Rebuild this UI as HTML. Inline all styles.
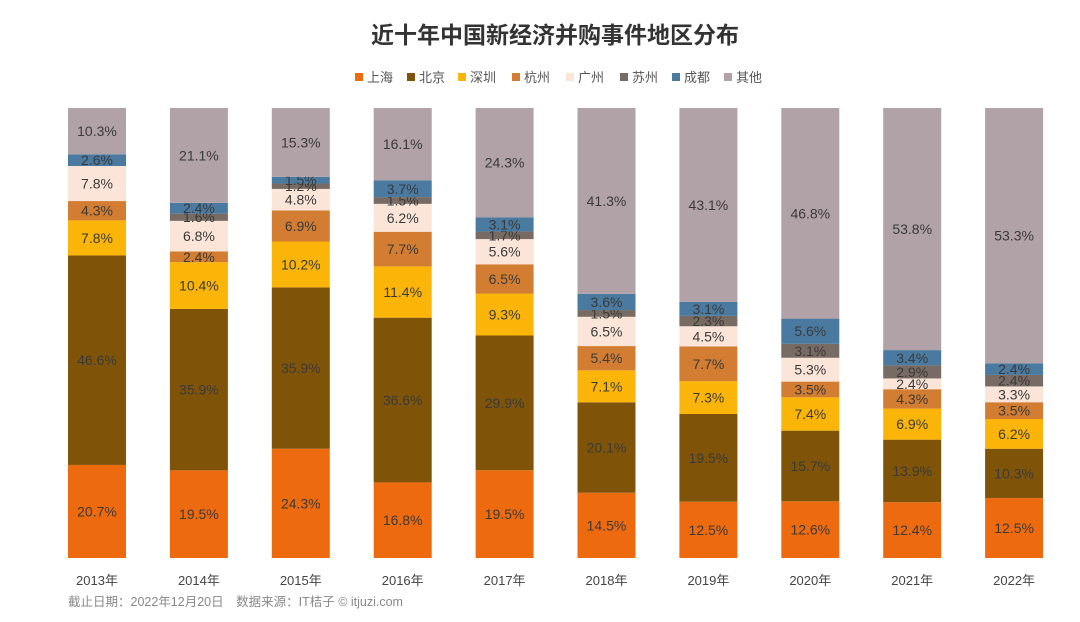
<!DOCTYPE html>
<html><head><meta charset="utf-8"><style>
body{margin:0;background:#fff;width:1080px;height:617px;overflow:hidden;font-family:"Liberation Sans","Noto Sans CJK SC",sans-serif}
</style></head><body>
<svg id="chart" width="1080" height="617" xmlns="http://www.w3.org/2000/svg" font-family="Liberation Sans, Noto Sans CJK SC, sans-serif">
<text x="555" y="43" text-anchor="middle" font-size="23" font-weight="bold" fill="#333">近十年中国新经济并购事件地区分布</text>
<g id="legend"></g>
<g id="bars"></g>
<g id="xaxis"></g>
<text x="68" y="606" font-size="12.5" fill="#888">截止日期：2022年12月20日　数据来源：IT桔子 © itjuzi.com</text>
</svg>
<script>
const years=["2013年","2014年","2015年","2016年","2017年","2018年","2019年","2020年","2021年","2022年"];
const regions=["上海","北京","深圳","杭州","广州","苏州","成都","其他"];
const shanghai=[20.7,19.5,24.3,16.8,19.5,14.5,12.5,12.6,12.4,12.5];
const beijing=[46.6,35.9,35.9,36.6,29.9,20.1,19.5,15.7,13.9,10.3];
const shenzhen=[7.8,10.4,10.2,11.4,9.3,7.1,7.3,7.4,6.9,6.2];
const hangzhou=[4.3,2.4,6.9,7.7,6.5,5.4,7.7,3.5,4.3,3.5];
const guangzhou=[7.8,6.8,4.8,6.2,5.6,6.5,4.5,5.3,2.4,3.3];
const suzhou=[0,1.6,1.2,1.5,1.7,1.5,2.3,3.1,2.9,2.4];
const chengdu=[2.6,2.4,1.5,3.7,3.1,3.6,3.1,5.6,3.4,2.4];
const others=[10.3,21.1,15.3,16.1,24.3,41.3,43.1,46.8,53.8,53.3];
const series=[shanghai,beijing,shenzhen,hangzhou,guangzhou,suzhou,chengdu,others];
const colors=["#ee6a0f","#7f5408","#fbb508","#d27d32","#fbe4d8","#776b63","#4a7aa0","#b0a2a7"];
const NS="http://www.w3.org/2000/svg";
const top0=108,bot=558,x0=68,step=101.9,bw=58;
function xPos(i){return x0+i*step;}
function yScale(v,total){return (bot-top0)*v/total;}
const bars=document.getElementById('bars');
years.forEach((yr,i)=>{
  let total=0;series.forEach(s=>total+=s[i]);
  let y=bot;
  series.forEach((s,k)=>{
    const v=s[i];if(v<=0)return;
    const h=yScale(v,total);y-=h;
    const r=document.createElementNS(NS,'rect');
    r.setAttribute('x',xPos(i));r.setAttribute('y',y);r.setAttribute('width',bw);r.setAttribute('height',h);r.setAttribute('fill',colors[k]);
    
    
    bars.appendChild(r);
    const t=document.createElementNS(NS,'text');
    t.setAttribute('x',xPos(i)+bw/2);t.setAttribute('y',y+h/2+5);t.setAttribute('text-anchor','middle');
    t.setAttribute('font-size','14');t.setAttribute('fill','#3a3a3a');t.textContent=v.toFixed(1)+'%';
    
    
    bars.appendChild(t);
  });
  const xl=document.createElementNS(NS,'text');
  xl.setAttribute('x',xPos(i)+bw/2);xl.setAttribute('y',585);xl.setAttribute('text-anchor','middle');
  xl.setAttribute('font-size','13');xl.setAttribute('fill','#444');xl.textContent=yr;
  
  
  document.getElementById('xaxis').appendChild(xl);
});
const leg=document.getElementById('legend');
const legX=[355,407,458,512,566,620,672,724];
regions.forEach((n,k)=>{
  const g=document.createElementNS(NS,'g');
  
  
  const r=document.createElementNS(NS,'rect');
  r.setAttribute('x',legX[k]);r.setAttribute('y',73);r.setAttribute('width',8);r.setAttribute('height',8);r.setAttribute('fill',colors[k]);
  const t=document.createElementNS(NS,'text');
  t.setAttribute('x',legX[k]+12);t.setAttribute('y',82);t.setAttribute('font-size','13');t.setAttribute('fill','#555');t.textContent=n;
  g.appendChild(r);g.appendChild(t);leg.appendChild(g);
});
</script>
</body></html>
